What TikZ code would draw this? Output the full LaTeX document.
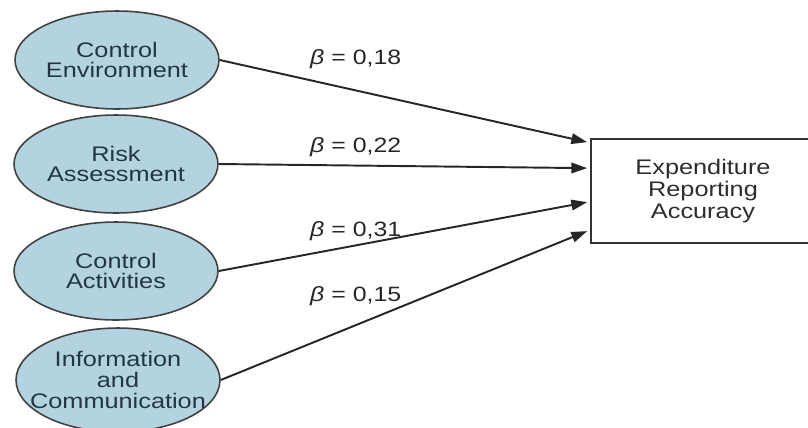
\documentclass[tikz,border=0pt]{standalone}
\usepackage{fontspec}
\setmainfont{Liberation Sans}[FakeStretch=1.2]
\usepackage{xcolor}
\usetikzlibrary{arrows.meta, calc, positioning, shapes}

\definecolor{ellfill}{RGB}{180,211,224}
\definecolor{elltext}{RGB}{34,54,70}
\definecolor{boxtext}{RGB}{45,45,45}

\tikzset{
    factor/.style={ellipse, draw=black!75, line width=0.9pt, fill=ellfill,
        minimum width=4.08cm, minimum height=1.96cm, inner sep=0pt,
        align=center, text=elltext, font=\fontsize{12}{11.9}\selectfont},
    outcome/.style={rectangle, draw=black!80, line width=1pt,
        minimum width=4.48cm, minimum height=2.08cm, align=center,
        text=boxtext, font=\fontsize{12}{12.4}\selectfont},
    link/.style={-{Triangle[length=9pt,width=6pt]}, line width=1.1pt, draw=black!85},
    coef/.style={anchor=west, text=black!85, font=\fontsize{11.8}{12}\selectfont}
}

\begin{document}
\begin{tikzpicture}[x=0.02cm, y=-0.02cm]
    \useasboundingbox (0,0) rectangle (808,427);

    % Internal control components
    \node[factor] (ce) at (117,60) {Control\\Environment};
    \node[factor] (ra) at (116,164) {Risk\\Assessment};
    \node[factor] (ca) at (116,271) {Control\\Activities};
    \node[factor, inner xsep=-0.8cm, minimum height=2.08cm] (ic) at (118,380) {Information\\and\\Communication};

    % Outcome
    \node[outcome] (era) at (703,191) {Expenditure\\Reporting\\Accuracy};

    % Arrow ends on the box
    \coordinate (t1) at ($(era.north west)+(-3,4)$);
    \coordinate (t2) at ($(era.north west)+(-3,30)$);
    \coordinate (t3) at ($(era.north west)+(-3,64)$);
    \coordinate (t4) at ($(era.north west)+(-3,93)$);

    \foreach \s/\t in {ce/t1, ra/t2, ca/t3, ic/t4} {
        \draw[link] (\s.east) -- (\t);
    }

    % Path coefficients
    \node[coef] (b1) at (304,59) {\textit{β} = 0,18};
    \node[coef] (b2) at (304,147) {\textit{β} = 0,22};
    \node[coef] (b3) at (304,231) {\textit{β} = 0,31};
    \node[coef] (b4) at (304,296) {\textit{β} = 0,15};
\end{tikzpicture}
\end{document}
